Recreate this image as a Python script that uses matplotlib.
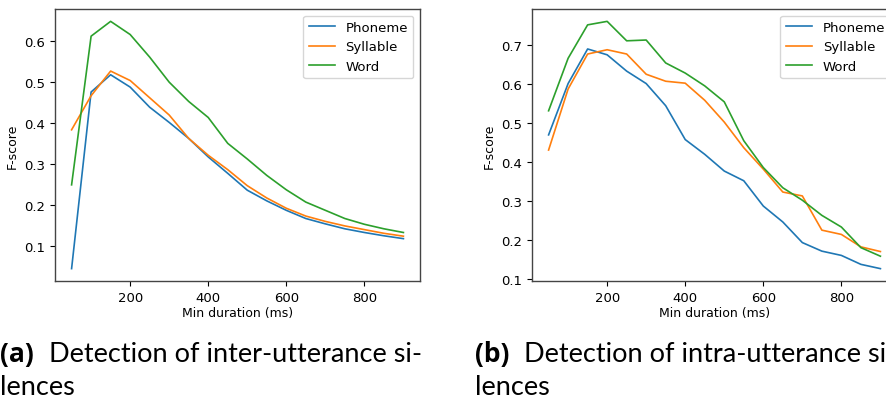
import matplotlib
matplotlib.use("Agg")
import matplotlib.pyplot as plt

# ── Data ───────────────────────────────────────────────────────────────────────
durations = [50, 100, 150, 200, 250, 300, 350, 400, 450,
             500, 550, 600, 650, 700, 750, 800, 850, 900]

# (a) inter-utterance silences
inter_phoneme  = [0.045, 0.475, 0.517, 0.487, 0.438, 0.401, 0.362, 0.317, 0.277,
                  0.236, 0.210, 0.187, 0.167, 0.154, 0.142, 0.133, 0.125, 0.118]
inter_syllable = [0.383, 0.466, 0.526, 0.503, 0.461, 0.419, 0.362, 0.321, 0.286,
                  0.247, 0.217, 0.192, 0.173, 0.160, 0.149, 0.140, 0.131, 0.124]
inter_word     = [0.249, 0.611, 0.647, 0.615, 0.560, 0.499, 0.452, 0.413, 0.350,
                  0.312, 0.272, 0.237, 0.207, 0.187, 0.167, 0.153, 0.142, 0.133]

# (b) intra-utterance silences
intra_phoneme  = [0.470, 0.602, 0.691, 0.676, 0.634, 0.602, 0.545, 0.458, 0.420,
                  0.377, 0.352, 0.287, 0.246, 0.193, 0.171, 0.160, 0.137, 0.126]
intra_syllable = [0.431, 0.588, 0.678, 0.689, 0.678, 0.626, 0.608, 0.603, 0.559,
                  0.503, 0.437, 0.382, 0.323, 0.313, 0.225, 0.214, 0.182, 0.170]
intra_word     = [0.532, 0.667, 0.753, 0.762, 0.712, 0.714, 0.655, 0.629, 0.596,
                  0.555, 0.455, 0.386, 0.334, 0.302, 0.263, 0.233, 0.180, 0.158]

series_labels = ["Phoneme", "Syllable", "Word"]
captions = [("(a)", "Detection of inter-utterance si-"),
            ("(b)", "Detection of intra-utterance si-")]

W, H = 887, 402
fig = plt.figure(figsize=(W / 100, H / 100), dpi=100)

# right panel runs past the canvas edge, as in the source figure
ax_a = fig.add_axes([55 / W, 120 / H, 365 / W, 272 / H])
ax_b = fig.add_axes([532 / W, 120 / H, 365 / W, 272 / H])

for ax, ys in [(ax_a, (inter_phoneme, inter_syllable, inter_word)),
               (ax_b, (intra_phoneme, intra_syllable, intra_word))]:
    for y, lab in zip(ys, series_labels):
        ax.plot(durations, y, label=lab, lw=1.2)
    ax.set_xticks([200, 400, 600, 800])
    ax.tick_params(labelsize=9.5)
    ax.set_xlabel("Min duration (ms)", fontsize=9, labelpad=2)
    ax.set_ylabel("F-score", fontsize=9)
    ax.legend(loc="upper right", fontsize=9.5)
    for s in ax.spines.values():
        s.set_color("#444444")
        s.set_linewidth(1.0)

# ── Sub-captions ───────────────────────────────────────────────────────────────
cap_font = "Lato"
for x0, (tag, text) in zip([0, 475], captions):
    fig.text(x0 / W, 1 - 362 / H, tag, fontsize=19, fontweight="bold",
             family="Open Sans", va="baseline")
    fig.text((x0 + 49) / W, 1 - 362 / H, text, fontsize=19.5,
             family=cap_font, va="baseline")
    fig.text(x0 / W, 1 - 395 / H, "lences", fontsize=19.5,
             family=cap_font, va="baseline")

fig.savefig("out.png", dpi=100)
